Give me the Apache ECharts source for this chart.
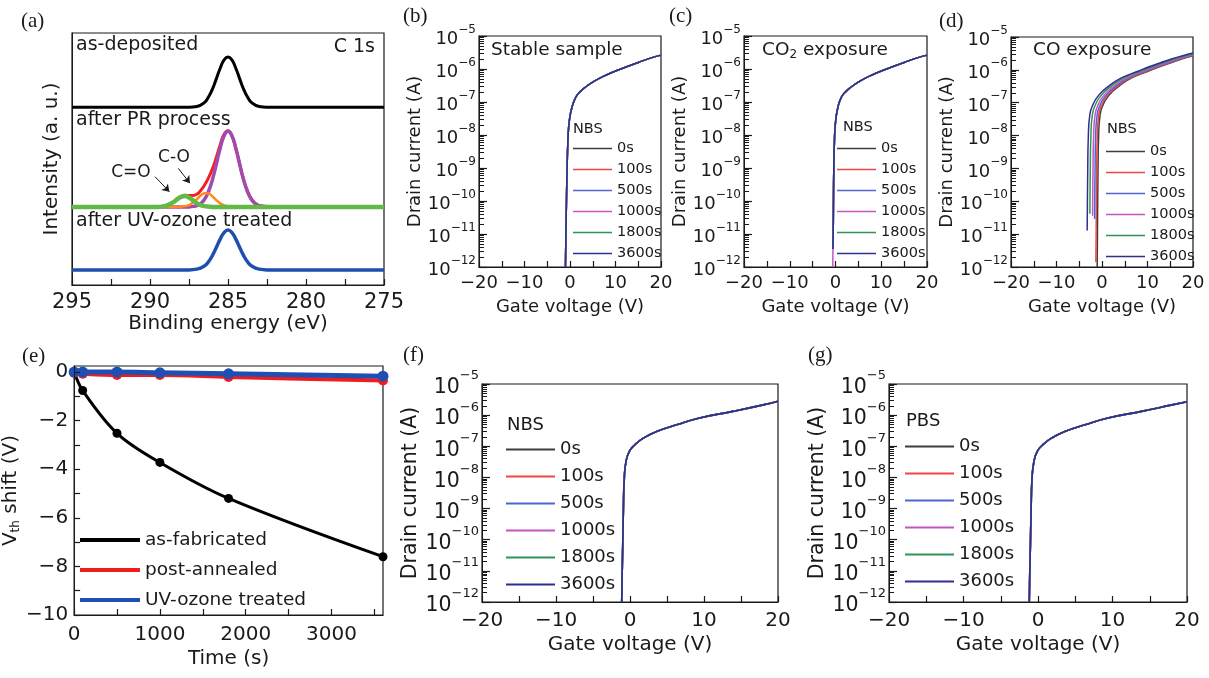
<!DOCTYPE html>
<html>
<head>
<meta charset="utf-8">
<script src="https://cdn.jsdelivr.net/npm/echarts@6/dist/echarts.min.js"></script>
<style>
html, body { margin: 0; padding: 0; background: #fff; }
#chart { width: 1209px; height: 678px; }
</style>
</head>
<body>
<div id="chart"></div>
<script>
// ---------- data ----------
// (a) C 1s XPS spectra, binding energy (eV) vs intensity (a.u., offset)
const beMain = [295, 290, 288, 287.5, 287, 286.5, 286.25, 286, 285.75, 285.5, 285.25, 285, 284.75, 284.5, 284.25, 284, 283.75, 283.5, 283, 282.5, 280, 275]
const asDeposited = [7.05, 7.05, 7.05, 7.05, 7.08, 7.25, 7.46, 7.77, 8.18, 8.6, 8.93, 9.05, 8.93, 8.6, 8.18, 7.77, 7.46, 7.25, 7.08, 7.05, 7.05, 7.05]
const uvTreated = [0.6, 0.6, 0.6, 0.6, 0.63, 0.76, 0.92, 1.17, 1.49, 1.82, 2.08, 2.18, 2.08, 1.82, 1.49, 1.17, 0.92, 0.76, 0.63, 0.6, 0.6, 0.6]
const bePR = [295, 290, 289.5, 289, 288.5, 288.25, 288, 287.75, 287.5, 287.25, 287, 286.75, 286.5, 286.25, 286, 285.75, 285.5, 285.25, 285, 284.75, 284.5, 284.25, 284, 283.75, 283.5, 283.25, 283, 282.5, 282, 280, 275]
const prEnvelope = [3.1, 3.1, 3.1, 3.14, 3.29, 3.41, 3.51, 3.56, 3.55, 3.55, 3.6, 3.75, 3.97, 4.25, 4.61, 5.06, 5.57, 5.98, 6.12, 5.92, 5.43, 4.79, 4.18, 3.71, 3.4, 3.23, 3.15, 3.11, 3.1, 3.1, 3.1]
const prCC = [3.1, 3.1, 3.1, 3.1, 3.1, 3.1, 3.1, 3.1, 3.1, 3.12, 3.15, 3.23, 3.4, 3.71, 4.18, 4.79, 5.43, 5.92, 6.1, 5.92, 5.43, 4.79, 4.18, 3.71, 3.4, 3.23, 3.15, 3.11, 3.1, 3.1, 3.1]
const prCO = [3.1, 3.1, 3.1, 3.1, 3.1, 3.1, 3.11, 3.13, 3.17, 3.27, 3.4, 3.55, 3.64, 3.63, 3.52, 3.37, 3.24, 3.16, 3.12, 3.11, 3.1, 3.1, 3.1, 3.1, 3.1, 3.1, 3.1, 3.1, 3.1, 3.1, 3.1]
const prCdO = [3.1, 3.1, 3.1, 3.14, 3.29, 3.41, 3.5, 3.53, 3.47, 3.36, 3.25, 3.17, 3.13, 3.11, 3.1, 3.1, 3.1, 3.1, 3.1, 3.1, 3.1, 3.1, 3.1, 3.1, 3.1, 3.1, 3.1, 3.1, 3.1, 3.1, 3.1]

// transfer curves: gate voltage (V) and drain current (A)
const stressTimes = ['0s', '100s', '500s', '1000s', '1800s', '3600s']

// (b) stable sample, all six curves overlap
const vgStable = [-1.0, -0.9, -0.79, -0.65, -0.42, -0.13, 0.46, 1.34, 2.3, 3.5, 5, 7.2, 10, 12.3, 15, 17.5, 20]
const idStable = [1e-12, 1e-11, 7.9e-11, 7.9e-10, 8.9e-9, 2.8e-8, 7.2e-8, 1.45e-7, 2.1e-7, 2.9e-7, 4.0e-7, 5.9e-7, 8.7e-7, 1.15e-6, 1.58e-6, 2.1e-6, 2.63e-6]

// (c) CO2 exposure
const vgCO2 = [-0.55, -0.5, -0.45, -0.38, -0.2, 0.05, 0.55, 1.35, 2.3, 3.5, 5, 7.2, 10, 12.3, 15, 17.5, 20]
const idCO2 = [3.5e-12, 1e-11, 7.9e-11, 7.9e-10, 8.9e-9, 2.8e-8, 7.2e-8, 1.45e-7, 2.1e-7, 2.9e-7, 4.0e-7, 5.9e-7, 8.7e-7, 1.15e-6, 1.58e-6, 2.1e-6, 2.63e-6]
const vgCO2Long = [-0.6, -0.55, -0.5, -0.45, -0.38, -0.2, 0.05, 0.55, 1.35, 2.3, 3.5, 5, 7.2, 10, 12.3, 15, 17.5, 20]
const idCO2Long = [1e-12, 3.5e-12, 1e-11, 7.9e-11, 7.9e-10, 8.9e-9, 2.8e-8, 7.2e-8, 1.45e-7, 2.1e-7, 2.9e-7, 4.0e-7, 5.9e-7, 8.7e-7, 1.15e-6, 1.58e-6, 2.1e-6, 2.63e-6]

// (d) CO exposure, one curve per stress time
const vgCO0 = [-1.06, -1.0, -0.95, -0.88, -0.75, -0.4, 0.38, 1.26, 2.3, 3.46, 5, 7.1, 10, 12.3, 15, 17.5, 20]
const idCO0 = [1e-12, 1e-11, 7.9e-11, 7.9e-10, 8.9e-9, 4.5e-8, 9.5e-8, 1.5e-7, 2.2e-7, 3.0e-7, 4.3e-7, 6.2e-7, 8.9e-7, 1.2e-6, 1.62e-6, 2.14e-6, 2.7e-6]
const vgCO100 = [-1.35, -1.29, -1.24, -1.17, -1.04, -0.69, 0.09, 0.97, 2.01, 3.17, 4.71, 6.81, 9.71, 12.01, 14.71, 17.21, 19.71, 20]
const idCO100 = [1.4e-12, 1e-11, 7.9e-11, 7.9e-10, 8.9e-9, 4.5e-8, 9.5e-8, 1.5e-7, 2.2e-7, 3.0e-7, 4.3e-7, 6.2e-7, 8.9e-7, 1.2e-6, 1.62e-6, 2.14e-6, 2.7e-6, 2.75e-6]
const vgCO500 = [-1.63, -1.6, -1.53, -1.4, -1.05, -0.27, 0.61, 1.65, 2.81, 4.35, 6.45, 9.35, 11.65, 14.35, 16.85, 19.35, 20]
const idCO500 = [2.9e-11, 7.9e-11, 7.9e-10, 8.9e-9, 4.5e-8, 9.5e-8, 1.5e-7, 2.2e-7, 3.0e-7, 4.3e-7, 6.2e-7, 8.9e-7, 1.2e-6, 1.62e-6, 2.14e-6, 2.7e-6, 2.85e-6]
const vgCO1000 = [-2.07, -2.05, -1.98, -1.85, -1.5, -0.72, 0.16, 1.2, 2.36, 3.9, 6.0, 8.9, 11.2, 13.9, 16.4, 18.9, 20]
const idCO1000 = [3.6e-11, 7.9e-11, 7.9e-10, 8.9e-9, 4.5e-8, 9.5e-8, 1.5e-7, 2.2e-7, 3.0e-7, 4.3e-7, 6.2e-7, 8.9e-7, 1.2e-6, 1.62e-6, 2.14e-6, 2.7e-6, 2.95e-6]
const vgCO1800 = [-2.67, -2.65, -2.58, -2.45, -2.1, -1.32, -0.44, 0.6, 1.76, 3.3, 5.4, 8.3, 10.6, 13.3, 15.8, 18.3, 20]
const idCO1800 = [4.2e-11, 7.9e-11, 7.9e-10, 8.9e-9, 4.5e-8, 9.5e-8, 1.5e-7, 2.2e-7, 3.0e-7, 4.3e-7, 6.2e-7, 8.9e-7, 1.2e-6, 1.62e-6, 2.14e-6, 2.7e-6, 3.1e-6]
const vgCO3600 = [-3.26, -3.21, -3.14, -3.01, -2.66, -1.88, -1.0, 0.04, 1.2, 2.74, 4.84, 7.74, 10.04, 12.74, 15.24, 17.74, 20]
const idCO3600 = [1.3e-11, 7.9e-11, 7.9e-10, 8.9e-9, 4.5e-8, 9.5e-8, 1.5e-7, 2.2e-7, 3.0e-7, 4.3e-7, 6.2e-7, 8.9e-7, 1.2e-6, 1.62e-6, 2.14e-6, 2.7e-6, 3.24e-6]

// (e) threshold voltage shift vs stress time
const timeE = [0, 100, 500, 1000, 1800, 3600]
const vthAsFab = [0, -0.76, -2.52, -3.72, -5.2, -7.6]
const vthAnnealed = [-0.03, -0.07, -0.12, -0.12, -0.2, -0.35]
const vthUV = [0, 0, 0, -0.03, -0.07, -0.17]

// (f) NBS and (g) PBS on UV-ozone treated device
const vgNBS = [-1.12, -1.05, -0.98, -0.9, -0.77, -0.54, -0.09, 0.67, 1.8, 3.6, 6.3, 9.4, 13.9, 18, 20]
const idNBS = [1e-12, 1e-11, 6.8e-11, 7.9e-10, 9.5e-9, 3.2e-8, 6.9e-8, 1.12e-7, 1.82e-7, 3.0e-7, 4.9e-7, 8.1e-7, 1.32e-6, 2.14e-6, 2.8e-6]
const vgPBS = [-1.17, -1.1, -1.02, -0.93, -0.8, -0.55, -0.1, 0.65, 1.8, 3.6, 6.3, 9.4, 13.9, 18, 20]
const idPBS = [1e-12, 1e-11, 6.8e-11, 7.9e-10, 9.5e-9, 3.2e-8, 6.9e-8, 1.12e-7, 1.82e-7, 3.0e-7, 4.9e-7, 8.1e-7, 1.32e-6, 2.14e-6, 2.7e-6]

// axis tick labels and tick positions
const energyTicks = [275, 280, 285, 290, 295]
const energyMarks = [275, 277.5, 280, 282.5, 285, 287.5, 290, 292.5, 295]
const gateMarks = [-20, -15, -10, -5, 0, 5, 10, 15, 20]
const timeTicks = [0, 1000, 2000, 3000]
const timeMarks = [0, 500, 1000, 1500, 2000, 2500, 3000, 3500]
const vthTicks = [-10, -8, -6, -4, -2, 0]
const vthMarks = [-10, -9, -8, -7, -6, -5, -4, -3, -2, -1, 0]

// ---------- styles ----------
const FONT = '"DejaVu Sans", "Liberation Sans", sans-serif'
const INK = '#1a1a1a'
const timeColors = ['#3c3c3c', '#f04545', '#5065d0', '#c455c4', '#2f9455', '#2f2f90']
const minus = v => String(v).replace('-', '\u2212')

// minor ticks of a decade axis (log10 of 2..9 in every decade)
const logMinor = []
for (let d = -12; d < -5; d++) for (let k = 2; k <= 9; k++) logMinor.push(d + Math.log10(k))

const pair = (xs, ys) => xs.map((x, i) => [x, ys[i]])

function curve(name, gi, xs, ys, color, width) {
    return {
        type: 'line', name, xAxisIndex: gi, yAxisIndex: gi,
        data: pair(xs, ys), symbol: 'none', showSymbol: false,
        smooth: 0.5, clip: true,
        lineStyle: {color, width}, itemStyle: {color},
        emphasis: {disabled: true}
    }
}

const tick = (len, extra) => Object.assign({show: true, inside: true, length: len, lineStyle: {color: INK, width: 1.2}}, extra || {})

function gateAxis(gi, fs, margin, gap) {
    return {
        type: 'value', gridIndex: gi, min: -20, max: 20, interval: 10, z: 10,
        axisLine: {show: true, onZero: false, lineStyle: {color: INK}},
        axisTick: tick(6, {customValues: gateMarks}),
        splitLine: {show: false},
        axisLabel: {fontFamily: FONT, fontSize: fs, color: INK, margin, formatter: minus},
        name: 'Gate voltage (V)', nameLocation: 'middle', nameGap: gap,
        nameTextStyle: {fontFamily: FONT, fontSize: fs, color: INK}
    }
}

function currentAxis(gi, fs, ss, gap) {
    return {
        type: 'log', logBase: 10, gridIndex: gi, min: 1e-12, max: 1e-5, z: 10,
        axisLine: {show: true, onZero: false, lineStyle: {color: INK}},
        axisTick: tick(8),
        splitLine: {show: false},
        axisLabel: {
            fontFamily: FONT, fontSize: fs, color: INK, margin: 3,
            formatter: v => '{b|10}{s|\u2212' + Math.round(-Math.log10(v)) + '}',
            rich: {
                b: {fontFamily: FONT, fontSize: fs, color: INK, lineHeight: Math.round(fs * 1.4), verticalAlign: 'bottom'},
                s: {fontFamily: FONT, fontSize: ss, color: INK, lineHeight: ss, verticalAlign: 'top'}
            }
        },
        name: 'Drain current (A)', nameLocation: 'middle', nameGap: gap,
        nameTextStyle: {fontFamily: FONT, fontSize: fs, color: INK}
    }
}

// companion axis that only draws the minor decade ticks
function minorAxis(gi) {
    return {
        type: 'value', gridIndex: gi, min: -12, max: -5, position: 'left', z: 10,
        axisLine: {show: false, onZero: false}, splitLine: {show: false},
        axisLabel: {show: false, customValues: logMinor},
        axisTick: tick(5, {customValues: logMinor, lineStyle: {color: INK, width: 1}})
    }
}

function stressLegend(left, top, fs, w, lh, h) {
    return {
        left, top, orient: 'vertical', padding: 0, itemGap: 0,
        itemWidth: w, itemHeight: h, icon: 'rect', selectedMode: false,
        data: stressTimes,
        textStyle: {fontFamily: FONT, fontSize: fs, color: INK, lineHeight: lh}
    }
}

function text(x, y, str, size, extra) {
    return {
        type: 'text', x, y, silent: true,
        style: Object.assign({text: str, fill: INK, font: size + 'px ' + FONT, verticalAlign: 'middle', align: 'left'}, extra || {})
    }
}
function panelTag(x, y, str) {
    return {type: 'text', x, y, silent: true,
        style: {text: str, fill: INK, font: '21px "Liberation Serif", serif', verticalAlign: 'middle'}}
}

const grids = [
    {left: 72, top: 33, width: 312, height: 252},
    {left: 479, top: 36, width: 182, height: 231},
    {left: 744, top: 36, width: 183, height: 231},
    {left: 1011, top: 37, width: 182, height: 230},
    {left: 72, top: 366, width: 311, height: 249},
    {left: 482, top: 384, width: 296, height: 218},
    {left: 889, top: 384, width: 298, height: 218}
].map(g => Object.assign({show: true, borderColor: INK, borderWidth: 1.2, backgroundColor: 'transparent'}, g))

const xAxes = [
    {
        type: 'value', gridIndex: 0, min: 275, max: 295, interval: 5, inverse: true, z: 10,
        axisLine: {show: true, onZero: false, lineStyle: {color: INK}},
        axisTick: tick(6, {customValues: energyMarks}),
        splitLine: {show: false},
        axisLabel: {fontFamily: FONT, fontSize: 21, color: INK, margin: 7, customValues: energyTicks},
        name: 'Binding energy (eV)', nameLocation: 'middle', nameGap: 27,
        nameTextStyle: {fontFamily: FONT, fontSize: 20, color: INK}
    },
    gateAxis(1, 18, 7, 31),
    gateAxis(2, 18, 7, 31),
    gateAxis(3, 18, 7, 31),
    {
        type: 'value', gridIndex: 4, min: 0, max: 3600, z: 10,
        axisLine: {show: true, onZero: false, lineStyle: {color: INK}},
        axisTick: tick(6, {customValues: timeMarks}),
        splitLine: {show: false},
        axisLabel: {fontFamily: FONT, fontSize: 20, color: INK, margin: 10, customValues: timeTicks, formatter: v => String(v)},
        name: 'Time (s)', nameLocation: 'middle', nameGap: 34,
        nameTextStyle: {fontFamily: FONT, fontSize: 20, color: INK}
    },
    gateAxis(5, 20, 9, 33),
    gateAxis(6, 20, 9, 33)
]

const yAxes = [
    {
        type: 'value', gridIndex: 0, min: 0, max: 10,
        axisLine: {show: true, onZero: false, lineStyle: {color: INK}}, axisTick: {show: false},
        axisLabel: {show: false}, splitLine: {show: false},
        name: 'Intensity (a. u.)', nameLocation: 'middle', nameGap: 10,
        nameTextStyle: {fontFamily: FONT, fontSize: 20, color: INK}
    },
    currentAxis(1, 18, 12, 44),
    currentAxis(2, 18, 12, 44),
    currentAxis(3, 18, 12, 44),
    {
        type: 'value', gridIndex: 4, min: -10, max: 0.25, z: 10,
        axisLine: {show: true, onZero: false, lineStyle: {color: INK}},
        axisTick: tick(6, {customValues: vthMarks}),
        splitLine: {show: false},
        axisLabel: {fontFamily: FONT, fontSize: 20, color: INK, margin: 6, customValues: vthTicks, formatter: minus},
        name: 'V{sub|th} shift (V)', nameLocation: 'middle', nameGap: 36,
        nameTextStyle: {fontFamily: FONT, fontSize: 20, color: INK,
            rich: {sub: {fontFamily: FONT, fontSize: 12, color: INK, padding: [10, 0, 0, 0]}}}
    },
    currentAxis(5, 20.5, 13, 50),
    currentAxis(6, 20.5, 13, 50),
    minorAxis(1), minorAxis(2), minorAxis(3), minorAxis(5), minorAxis(6)
]

const series = [
    curve('as-deposited', 0, beMain, asDeposited, '#000000', 3),
    curve('PR envelope', 0, bePR, prEnvelope, '#f41f1f', 3),
    curve('C-C', 0, bePR, prCC, '#a24aae', 3.5),
    curve('C-O', 0, bePR, prCO, '#ff8a1e', 2.5),
    curve('C=O', 0, bePR, prCdO, '#62b946', 4.5),
    curve('UV-ozone', 0, beMain, uvTreated, '#1f4fae', 3.5)
]
// annotation arrows for C=O and C-O
series[4].markLine = {
    silent: true, symbol: ['none', 'arrow'], symbolSize: 7, label: {show: false},
    lineStyle: {color: INK, width: 1, type: 'solid'},
    data: [
        [{coord: [289.68, 4.3]}, {coord: [288.76, 3.7]}],
        [{coord: [288.19, 4.63]}, {coord: [287.44, 4.04]}]
    ]
}

stressTimes.forEach((t, k) => {
    series.push(curve(t, 1, vgStable, idStable, timeColors[k], 1.5))
})
stressTimes.forEach((t, k) => {
    if (t === '1000s') series.push(curve(t, 2, vgCO2Long, idCO2Long, timeColors[k], 1.5))
    else series.push(curve(t, 2, vgCO2, idCO2, timeColors[k], 1.5))
})
const coSets = [[vgCO0, idCO0], [vgCO100, idCO100], [vgCO500, idCO500], [vgCO1000, idCO1000], [vgCO1800, idCO1800], [vgCO3600, idCO3600]]
stressTimes.forEach((t, k) => {
    series.push(curve(t, 3, coSets[k][0], coSets[k][1], timeColors[k], 1.5))
})
stressTimes.forEach((t, k) => {
    series.push(curve(t, 5, vgNBS, idNBS, timeColors[k], 1.6))
})
stressTimes.forEach((t, k) => {
    series.push(curve(t, 6, vgPBS, idPBS, timeColors[k], 1.6))
})

const vthSets = [
    ['as-fabricated', vthAsFab, '#000000', 3, 9],
    ['post-annealed', vthAnnealed, '#f21c1c', 4, 10],
    ['UV-ozone treated', vthUV, '#1f4fb3', 5, 11]
]
vthSets.forEach(([name, ys, color, w, s]) => {
    series.push({
        type: 'line', name, xAxisIndex: 4, yAxisIndex: 4, data: pair(timeE, ys),
        smooth: 0.35, symbol: 'circle', symbolSize: s, clip: false,
        lineStyle: {color, width: w}, itemStyle: {color},
        emphasis: {disabled: true}
    })
})

const legends = [
    stressLegend(573, 138, 14.5, 39, 21, 1.6),
    stressLegend(837, 138, 14.5, 39, 21, 1.6),
    stressLegend(1106, 141, 14.5, 39, 21, 1.6),
    stressLegend(506, 436, 18, 49, 27, 2),
    stressLegend(905, 433, 18, 49, 27, 2),
    {
        left: 80, top: 525, orient: 'vertical', padding: 0, itemGap: 0,
        itemWidth: 60, itemHeight: 4, icon: 'rect', selectedMode: false,
        data: ['as-fabricated', 'post-annealed', 'UV-ozone treated'],
        textStyle: {fontFamily: FONT, fontSize: 18.5, color: INK, lineHeight: 30}
    }
]

const graphics = [
    panelTag(21, 21, '(a)'), panelTag(403, 16, '(b)'), panelTag(669, 16, '(c)'), panelTag(939, 21, '(d)'),
    panelTag(22, 356, '(e)'), panelTag(403, 355, '(f)'), panelTag(808, 355, '(g)'),
    text(76, 45, 'as-deposited', 19),
    text(375, 47, 'C 1s', 19, {align: 'right'}),
    text(76, 120, 'after PR process', 19),
    text(76, 221, 'after UV-ozone treated', 19),
    text(131, 173, 'C=O', 17, {align: 'center'}),
    text(174, 158, 'C-O', 17, {align: 'center'}),
    text(491, 50, 'Stable sample', 18.5),
    {type: 'text', x: 762, y: 50, silent: true, style: {
        text: 'CO{sub|2} exposure', fill: INK, font: '18.5px ' + FONT, verticalAlign: 'middle',
        rich: {sub: {fontFamily: FONT, fontSize: 12, fill: INK, padding: [10, 0, 0, 0]}}}},
    text(1033, 50, 'CO exposure', 18.5),
    text(573, 129, 'NBS', 14.5),
    text(843, 127, 'NBS', 14.5),
    text(1107, 129, 'NBS', 14.5),
    text(507, 425, 'NBS', 18),
    text(906, 421, 'PBS', 18)
]

window.onload = () => {
    const chart = echarts.init(document.getElementById('chart'), null, {renderer: 'canvas'})
    chart.setOption({
        backgroundColor: '#ffffff',
        animation: false,
        grid: grids,
        xAxis: xAxes,
        yAxis: yAxes,
        legend: legends,
        series,
        graphic: graphics
    })
}
</script>
</body>
</html>
